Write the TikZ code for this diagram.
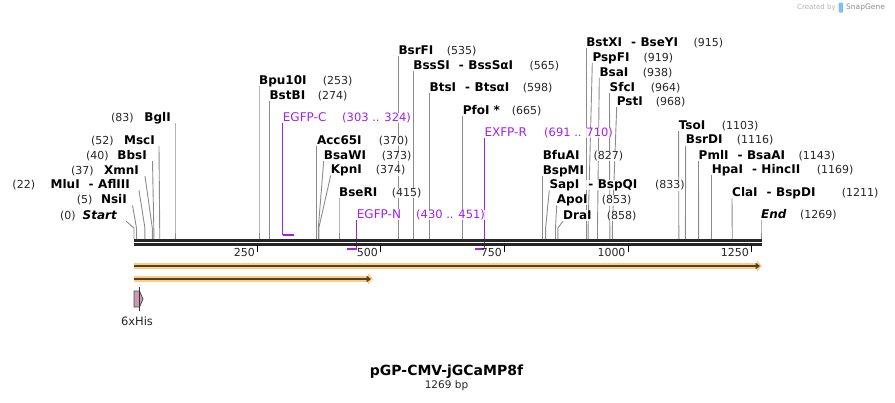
\documentclass[tikz,border=0pt]{standalone}
\usepackage{fontspec}
\setmainfont{DejaVu Sans}
\usetikzlibrary{arrows.meta,backgrounds}
\definecolor{cutgray}{RGB}{140,140,140}
\definecolor{primer}{RGB}{160,32,240}
\definecolor{bbdark}{RGB}{38,38,38}
\definecolor{glow}{RGB}{255,205,128}
\definecolor{arrdark}{RGB}{80,64,44}
\definecolor{hispink}{RGB}{204,153,180}
\definecolor{wmgray}{RGB}{178,178,178}
\definecolor{snapblue}{RGB}{125,192,240}
\newcommand{\cutto}[2]{\draw[cut] (#1) -- ([yshift=11pt]#2) -- (#2);}
\newcommand{\dash}{\hspace{9pt}-\hspace{4.5pt}}

\begin{document}
\begin{tikzpicture}[
  x=1pt, y=-1pt,
  enz/.style={font=\fontsize{12}{12}\selectfont\bfseries, inner sep=0pt, text height=9pt, text depth=1.5pt, fill=white, fill opacity=.8, text opacity=1, anchor=base west},
  enzl/.style={enz, anchor=base east},
  sitenum/.style={font=\fontsize{11}{11}\selectfont, inner sep=0pt, text height=8.5pt, text depth=2pt, text=black!85, fill=white, fill opacity=.8, text opacity=1, anchor=base west},
  prm/.style={enz, font=\fontsize{12}{12}\selectfont, text=primer},
  prmnum/.style={sitenum, font=\fontsize{11.5}{11.5}\selectfont, text=primer},
  cut/.style={draw=cutgray, line width=.9pt},
  prmline/.style={draw=primer, line width=1.1pt},
  prmbar/.style={draw=primer, line width=2.6pt},
  bb/.style={draw=bbdark, line width=2.7pt},
  tickmark/.style={draw=black, line width=1.4pt},
  tickno/.style={font=\fontsize{11}{11}\selectfont, inner sep=0pt, text=black!85, anchor=base east},
  band/.style={draw=glow, line width=6pt, -{Triangle[length=5pt,width=11pt]}},
  core/.style={draw=arrdark, line width=2.2pt, -{Triangle[length=4.5pt,width=6.5pt]}},
]
  \useasboundingbox (0,0) rectangle (895,402);

  % sites on the sequence
  \coordinate (s0) at (134,239);
  \coordinate (s5) at (136.5,239);
  \coordinate (s22) at (144.9,239);
  \coordinate (s37) at (152.3,239);
  \coordinate (s40) at (153.8,239);
  \coordinate (s52) at (159.7,239);
  \coordinate (s83) at (175,239);
  \coordinate (s253) at (259,239);
  \coordinate (s274) at (269.4,239);
  \coordinate (s370) at (316.8,239);
  \coordinate (s373) at (318.3,239);
  \coordinate (s374) at (318.8,239);
  \coordinate (s415) at (339,239);
  \coordinate (s535) at (398.3,239);
  \coordinate (s565) at (413.2,239);
  \coordinate (s598) at (429.5,239);
  \coordinate (s665) at (462.6,239);
  \coordinate (s827) at (542.6,239);
  \coordinate (s833) at (545.6,239);
  \coordinate (s853) at (555.5,239);
  \coordinate (s858) at (557.9,239);
  \coordinate (s915) at (586.1,239);
  \coordinate (s919) at (588.1,239);
  \coordinate (s938) at (597.5,239);
  \coordinate (s964) at (609.8,239);
  \coordinate (s968) at (612.3,239);
  \coordinate (s1103) at (678.8,239);
  \coordinate (s1116) at (685.4,239);
  \coordinate (s1143) at (698.6,239);
  \coordinate (s1169) at (711.6,239);
  \coordinate (s1211) at (732.2,239);
  \coordinate (s1269) at (761,239);

  % left labels
  \node[enzl] (bgl) at (171,121.1) {BglI};
  \node[sitenum] (bglN) at (111,121.1) {(83)};
  \node[enzl] (msc) at (155,144.4) {MscI};
  \node[sitenum] (mscN) at (91,144.4) {(52)};
  \node[enzl] (bbs) at (147,159.4) {BbsI};
  \node[sitenum] (bbsN) at (86,159.4) {(40)};
  \node[enzl] (xmn) at (139,174.4) {XmnI};
  \node[sitenum] (xmnN) at (71,174.4) {(37)};
  \node[enzl] (mlu) at (130,188.7) {MluI\dash AflIII};
  \node[sitenum] (mluN) at (12.3,188.7) {(22)};
  \node[enzl] (nsi) at (127,203.7) {NsiI};
  \node[sitenum] (nsiN) at (76.7,203.7) {(5)};
  \node[enzl] (seqstart) at (117,219.4) {\itshape Start};
  \node[sitenum] (seqstartN) at (60,219.4) {(0)};

  % right labels
  \node[enz] (bpu) at (259,84.4) {Bpu10I};
  \node[sitenum] (bpuN) at (322.7,84.4) {(253)};
  \node[enz] (bstb) at (269.4,99.4) {BstBI};
  \node[sitenum] (bstbN) at (317.7,99.4) {(274)};
  \node[enz] (acc) at (316.8,144.4) {Acc65I};
  \node[sitenum] (accN) at (378.7,144.4) {(370)};
  \node[enz] (bsaw) at (323.7,159.4) {BsaWI};
  \node[sitenum] (bsawN) at (381.7,159.4) {(373)};
  \node[enz] (kpn) at (330.7,173.7) {KpnI};
  \node[sitenum] (kpnN) at (375.7,173.7) {(374)};
  \node[enz] (bser) at (339,196.1) {BseRI};
  \node[sitenum] (bserN) at (391.7,196.1) {(415)};
  \node[enz] (bsrf) at (398.3,54.4) {BsrFI};
  \node[sitenum] (bsrfN) at (446.7,54.4) {(535)};
  \node[enz] (bsss) at (413.2,69.1) {BssSI\dash BssSαI};
  \node[sitenum] (bsssN) at (529.3,69.1) {(565)};
  \node[enz] (bts) at (429.5,91.1) {BtsI\dash BtsαI};
  \node[sitenum] (btsN) at (522.7,91.1) {(598)};
  \node[enz] (pfo) at (462.6,114.4) {PfoI *};
  \node[sitenum] (pfoN) at (511.7,114.4) {(665)};
  \node[enz] (bfua) at (542.6,159.4) {BfuAI};
  \node[sitenum] (bfuaN) at (593.3,159.4) {(827)};
  \node[enz] (bspm) at (542.6,174.4) {BspMI};
  \node[enz] (sap) at (549.3,188.7) {SapI\dash BspQI};
  \node[sitenum] (sapN) at (655,188.7) {(833)};
  \node[enz] (apo) at (556.7,203.7) {ApoI};
  \node[sitenum] (apoN) at (601.7,203.7) {(853)};
  \node[enz] (dra) at (563,219.4) {DraI};
  \node[sitenum] (draN) at (606.7,219.4) {(858)};
  \node[enz] (bstx) at (586.1,46.7) {BstXI\dash BseYI};
  \node[sitenum] (bstxN) at (693.3,46.7) {(915)};
  \node[enz] (pspf) at (592.3,61.1) {PspFI};
  \node[sitenum] (pspfN) at (643.3,61.1) {(919)};
  \node[enz] (bsa) at (599.3,76.1) {BsaI};
  \node[sitenum] (bsaN) at (642.7,76.1) {(938)};
  \node[enz] (sfc) at (609.5,91.1) {SfcI};
  \node[sitenum] (sfcN) at (650.7,91.1) {(964)};
  \node[enz] (pst) at (616.7,105.4) {PstI};
  \node[sitenum] (pstN) at (655.7,105.4) {(968)};
  \node[enz] (tso) at (678.6,129.4) {TsoI};
  \node[sitenum] (tsoN) at (721.7,129.4) {(1103)};
  \node[enz] (bsrd) at (685.7,143.7) {BsrDI};
  \node[sitenum] (bsrdN) at (736.7,143.7) {(1116)};
  \node[enz] (pml) at (698.5,159.4) {PmlI\dash BsaAI};
  \node[sitenum] (pmlN) at (798.3,159.4) {(1143)};
  \node[enz] (hpa) at (711.6,173.7) {HpaI\dash HincII};
  \node[sitenum] (hpaN) at (816.7,173.7) {(1169)};
  \node[enz] (cla) at (732,196.7) {ClaI\dash BspDI};
  \node[sitenum] (claN) at (841.7,196.7) {(1211)};
  \node[enz] (seqend) at (761,218.7) {\itshape End};
  \node[sitenum] (seqendN) at (800,218.7) {(1269)};

  % primers
  \node[prm] (egfpc) at (282.7,121.1) {EGFP-C};
  \node[prmnum] (egfpcN) at (342,121.1) {(303 .. 324)};
  \node[prm] (exfpr) at (484.3,136.1) {EXFP-R};
  \node[prmnum] (exfprN) at (544,136.1) {(691 .. 710)};
  \node[prm] (egfpn) at (356.7,218.4) {EGFP-N};
  \node[prmnum] (egfpnN) at (416,218.4) {(430 .. 451)};
  \coordinate (egfpcA) at (282.7,235);
  \coordinate (egfpcB) at (294,235);
  \coordinate (exfprA) at (484.3,249);
  \coordinate (exfprB) at (475.4,249);
  \coordinate (egfpnA) at (356.7,249);
  \coordinate (egfpnB) at (346.5,249);

  \begin{scope}[on background layer]
    \cutto{[xshift=4pt]bgl.south east}{s83}
    \cutto{[xshift=4pt]msc.south east}{s52}
    \cutto{[xshift=5.5pt]bbs.south east}{s40}
    \cutto{[xshift=6pt]xmn.south east}{s37}
    \cutto{[xshift=9pt]mlu.south east}{s22}
    \cutto{[xshift=5.5pt]nsi.south east}{s5}
    \cutto{[xshift=9pt]seqstart.south east}{s0}
    \cutto{bpu.south west}{s253}
    \cutto{bstb.south west}{s274}
    \cutto{acc.south west}{s370}
    \cutto{bsaw.south west}{s373}
    \cutto{kpn.south west}{s374}
    \cutto{bser.south west}{s415}
    \cutto{bsrf.south west}{s535}
    \cutto{bsss.south west}{s565}
    \cutto{bts.south west}{s598}
    \cutto{pfo.south west}{s665}
    \cutto{bspm.south west}{s827}
    \cutto{sap.south west}{s833}
    \cutto{apo.south west}{s853}
    \cutto{dra.south west}{s858}
    \cutto{bstx.south west}{s915}
    \cutto{pspf.south west}{s919}
    \cutto{bsa.south west}{s938}
    \cutto{sfc.south west}{s964}
    \cutto{pst.south west}{s968}
    \cutto{tso.south west}{s1103}
    \cutto{bsrd.south west}{s1116}
    \cutto{pml.south west}{s1143}
    \cutto{hpa.south west}{s1169}
    \cutto{cla.south west}{s1211}
    \cutto{seqend.south west}{s1269}
    \draw[prmline] (egfpc.south west) -- (egfpcA);
    \draw[prmbar] (egfpcA) -- (egfpcB);
    \draw[prmline] (exfpr.south west) -- (exfprA);
    \draw[prmbar] (exfprA) -- (exfprB);
    \draw[prmline] (egfpn.south west) -- (egfpnA);
    \draw[prmbar] (egfpnA) -- (egfpnB);
  \end{scope}

  % sequence
  \coordinate (seqL) at (134,240.2);
  \coordinate (seqR) at (762,240.2);
  \draw[bb] (seqL) -- (seqR);
  \draw[bb] ([yshift=-4.1pt]seqL) -- ([yshift=-4.1pt]seqR);

  % ruler
  \coordinate (k250) at (257.5,245);
  \coordinate (k500) at (380.5,245);
  \coordinate (k750) at (504.5,245);
  \coordinate (k1000) at (628.2,245);
  \coordinate (k1250) at (751.5,245);
  \draw[tickmark] (k250) -- ++(0,7);
  \draw[tickmark] (k500) -- ++(0,7);
  \draw[tickmark] (k750) -- ++(0,7);
  \draw[tickmark] (k1000) -- ++(0,7);
  \draw[tickmark] (k1250) -- ++(0,7);
  \node[tickno] (t250) at ([shift={(-2.5,11)}]k250) {250};
  \node[tickno] (t500) at ([shift={(-2.5,11)}]k500) {500};
  \node[tickno] (t750) at ([shift={(-2.5,11)}]k750) {750};
  \node[tickno] (t1000) at ([shift={(-2.5,11)}]k1000) {1000};
  \node[tickno] (t1250) at ([shift={(-2.5,11)}]k1250) {1250};

  % features
  \coordinate (f1s) at (134,266);
  \coordinate (f1e) at (762,266);
  \coordinate (f2s) at (134,279);
  \coordinate (f2e) at (373,279);
  \draw[band] (f1s) -- (f1e);
  \draw[core] (f1s) -- ([xshift=-2pt]f1e);
  \draw[band] (f2s) -- (f2e);
  \draw[core] (f2s) -- ([xshift=-2pt]f2e);

  \filldraw[fill=hispink, draw=black!70, line width=.8pt] (134,291) -- (139.5,291) -- (143,299) -- (139.5,307) -- (134,307) -- cycle;
  \draw[black!80, line width=.8pt] (139.5,287) -- (139.5,311);
  \node[font=\fontsize{11.5}{11.5}\selectfont, text=black!85, inner sep=0pt] (his) at (137,321) {6xHis};

  % title
  \node[font=\fontsize{14}{14}\selectfont\bfseries, inner sep=0pt] (title) at (446.5,371.5) {pGP-CMV-jGCaMP8f};
  \node[font=\fontsize{10.5}{10.5}\selectfont, text=black!85, inner sep=0pt] (len) at (446.5,385.5) {1269 bp};

  % watermark
  \node[font=\fontsize{7}{7}\selectfont, text=wmgray, inner sep=0pt, anchor=west] (wm1) at (797,7.5) {Created by};
  \fill[snapblue, rounded corners=1pt] (838.5,2.5) rectangle (843,12.5);
  \node[font=\fontsize{7.5}{7.5}\selectfont, text=black!45, inner sep=0pt, anchor=west] (wm2) at (846,7.5) {SnapGene};
\end{tikzpicture}
\end{document}
